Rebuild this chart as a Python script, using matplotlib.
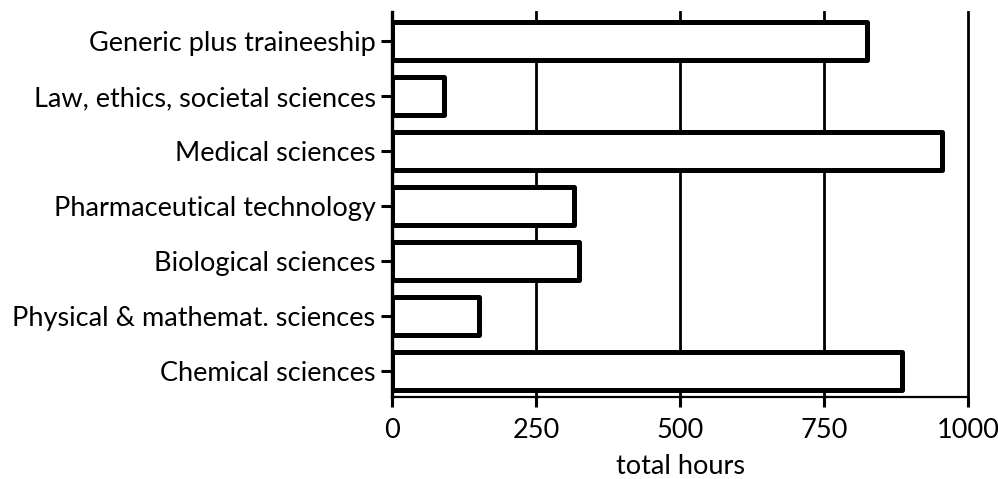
import matplotlib
matplotlib.use('Agg')
import matplotlib.pyplot as plt
import numpy as np

# categories listed top to bottom as in the chart
categories = ['Generic plus traineeship',
              'Law, ethics, societal sciences',
              'Medical sciences',
              'Pharmaceutical technology',
              'Biological sciences',
              'Physical & mathemat. sciences',
              'Chemical sciences']
hours = [825, 90, 955, 315, 325, 150, 885]
xticks = [0, 250, 500, 750, 1000]

plt.rcParams['font.family'] = ['Lato', 'DejaVu Sans']

fig = plt.figure(figsize=(9.98, 4.79), dpi=100)
ax = fig.add_axes([0.393, 0.171, 0.577, 0.804])

# bottom category first so the list reads top-down
ypos = np.arange(len(categories))[::-1]

# vertical grid lines behind the bars
for xv in xticks[1:]:
    ax.axvline(xv, color='black', linewidth=2.0, zorder=1, clip_on=False)

ax.barh(ypos, hours, height=0.7, color='white', edgecolor='black',
        linewidth=3.6, zorder=2, joinstyle='round')

ax.set_xlim(0, 1000)
ax.set_ylim(-0.47, 6.53)
ax.set_yticks(ypos)
ax.set_yticklabels(categories, fontsize=19.5)
ax.set_xticks(xticks)
ax.set_xticklabels([str(v) for v in xticks], fontsize=19.5)
ax.set_xlabel('total hours', fontsize=19.5, labelpad=8)

# spines: thick left, thin bottom, none on top/right
ax.spines['top'].set_visible(False)
ax.spines['right'].set_visible(False)
ax.spines['left'].set_linewidth(2.4)
ax.spines['bottom'].set_linewidth(1.6)
ax.spines['left'].set_zorder(3)
ax.tick_params(axis='y', length=8, width=2.2, pad=4)
ax.tick_params(axis='x', length=7, width=2.2, pad=8)

fig.savefig('out.png', dpi=100)
